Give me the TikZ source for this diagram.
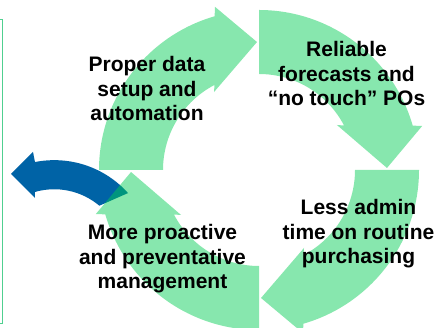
\documentclass[tikz,border=0pt]{standalone}
\usepackage{fontspec}
\setmainfont{Liberation Sans}
\usetikzlibrary{calc}
\definecolor{cycgreen}{RGB}{0,206,83}
\definecolor{outblue}{RGB}{0,99,166}
\definecolor{framegreen}{RGB}{80,208,144}
\tikzset{
  cyclefill/.style={fill=cycgreen, fill opacity=0.47},
  cyclelabel/.style={font=\bfseries\fontsize{21}{24.5}\selectfont, align=center,
    anchor=base, inner sep=0pt, text=black},
  % one quarter of the cycle: a curved band ending in a broad head
  cyclearrow/.pic={
    \path[cyclefill] (180:160) arc[start angle=180, end angle=106.1, radius=160]
      -- (105.1:169) -- (90.9:128) -- (120:90) -- (117.6:96)
      arc[start angle=117.6, end angle=180, radius=96] -- cycle;
  }
}
\begin{document}
\begin{tikzpicture}[x=1pt, y=1pt]
\useasboundingbox (0,0) rectangle (438,328);
\fill[white] (0,0) rectangle (438,328);

% edge of the side panel
\draw[framegreen, line width=1.3pt] (-5,308.5) -- (2.5,308.5) -- (2.5,4.5) -- (-5,4.5);

\coordinate (hub) at (259,158);
\coordinate (bc) at (54.25,68.75);

% outgoing arrow leaving the cycle
\fill[outblue] (11,154) -- (33,176) -- ($(bc)+(101.2:99.1)$)
  arc[start angle=101.2, end angle=41.9, radius=99.1]
  -- ($(bc)+(49.9:70)$) arc[start angle=49.9, end angle=106, radius=70]
  -- (35,130) -- cycle;

% the four cycle arrows
\pic (setup)    at (hub) {cyclearrow};
\pic[rotate=-90]  (forecast) at (hub) {cyclearrow};
\pic[rotate=-180] (admin)    at (hub) {cyclearrow};
\pic[rotate=-270] (proact)   at (hub) {cyclearrow};

% labels (anchored at the baseline of their last line)
\node[cyclelabel] (lsetup)    at (147,207)   {Proper data\\setup and\\automation};
\node[cyclelabel] (lforecast) at (346.5,222) {Reliable\\forecasts and\\“no touch” POs};
\node[cyclelabel] (ladmin)    at (358.5,64)  {Less admin\\time on routine\\purchasing};
\node[cyclelabel] (lproact)   at (162.5,39)  {More proactive\\and preventative\\management};
\end{tikzpicture}
\end{document}
